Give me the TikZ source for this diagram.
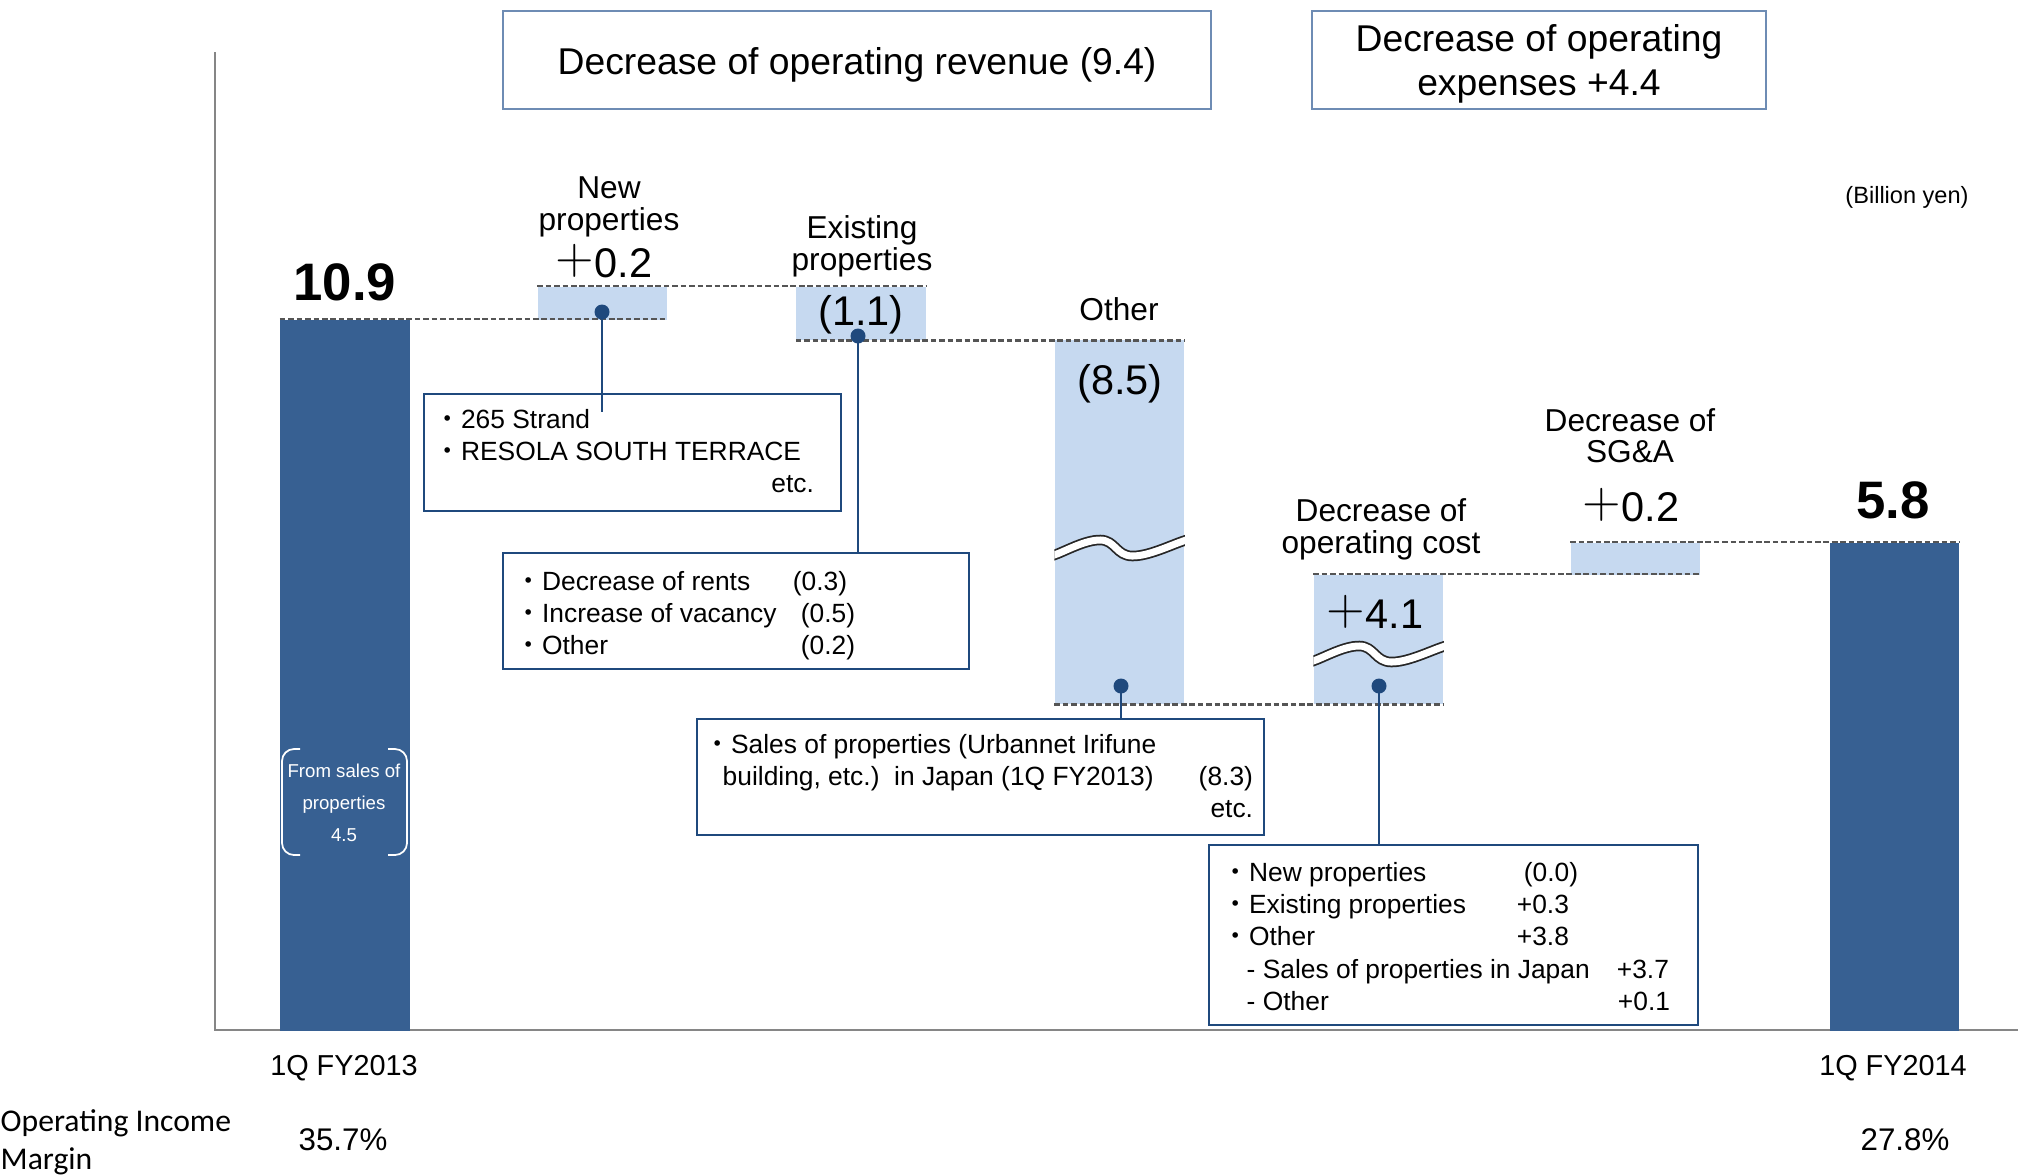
\documentclass[tikz,border=0pt]{standalone}
\usepackage{fontspec}
\setmainfont{Liberation Sans}
\newfontfamily\jpfont{Noto Sans CJK JP}
\newfontfamily\calfont{Carlito}
\usepackage{tikz}
\usetikzlibrary{positioning,calc}
\definecolor{darkbar}{RGB}{55,96,146}
\definecolor{lightbar}{RGB}{198,217,240}
\definecolor{navy}{RGB}{31,73,125}
\definecolor{framegray}{RGB}{110,140,180}
\definecolor{dashgray}{RGB}{85,85,85}
\definecolor{axisgray}{RGB}{134,134,134}

\newcommand{\jdot}{{\jpfont ・}}
\newcommand{\plusw}{\raisebox{1.1pt}{\fontsize{14}{14}\selectfont$+$}}
\newcommand{\fs}[2]{\fontsize{#1}{#2}\selectfont}
\newcommand{\stack}[1]{\begin{tabular}[t]{@{}c@{}}#1\end{tabular}}
\newcommand{\lowered}[1]{\raisebox{-0.05cm}[\height][\depth]{#1}}
\newcommand{\gapwave}[2]{%
  \begin{scope}
    \clip (#1.north west) rectangle (#1.south east);
    \foreach \wcol/\wwd in {black!85/3pt, white/2pt}
      \draw[\wcol, line width=\wwd, shift={(#1.west |- 0,#2)}]
        plot[smooth, tension=0.7] coordinates {(-12,5) (0,0) (46,-15) (78,1) (129,-14) (142,-20)};
  \end{scope}}

\tikzset{
  bar/.style={rectangle, inner sep=0pt, minimum width=1.29cm, anchor=north},
  guideline/.style={dashgray, line width=0.7pt, dash pattern=on 1.6pt off 0.8pt},
  axisline/.style={axisgray, line width=0.7pt},
  infobox/.style={draw=navy, line width=0.6pt, fill=white, inner sep=0pt, anchor=north west},
  titlebox/.style={draw=framegray, line width=0.5pt, inner sep=0pt, anchor=north west, font=\fs{10.6}{12.5}},
  leader/.style={navy, line width=0.6pt},
  leaddot/.style={circle, fill=navy, inner sep=0pt, minimum size=0.15cm},
  boxtext/.style={anchor=base west, inner sep=0pt, font=\fs{7.5}{9.2}},
  lbl/.style={anchor=base, inner sep=0pt, font=\fs{9}{8.9}},
  val/.style={anchor=base, inner sep=0pt, font=\fs{11.8}{12}},
  total/.style={anchor=base, inner sep=0pt, font=\bfseries\fs{15}{15}},
  yearlbl/.style={anchor=base, inner sep=0pt, font=\fs{8.2}{9}},
  marginval/.style={anchor=base, inner sep=0pt, font=\fs{8.9}{9}},
  bracket/.style={white, line width=0.5pt, rounded corners=0.12cm}
}

\begin{document}
\begin{tikzpicture}[x=0.01cm, y=-0.01cm]
  \useasboundingbox (0,0) rectangle (2018,1175);

  % headline boxes
  \node[titlebox, minimum width=7.08cm, minimum height=0.98cm] (revtitle) at (502,10) {\lowered{Decrease of operating revenue (9.4)}};
  \node[titlebox, minimum width=4.54cm, minimum height=0.98cm] (exptitle) at (1311,10) {\lowered{\stack{Decrease of operating\\expenses +4.4}}};
  \node[anchor=base, inner sep=0pt, font=\fs{6.7}{8}] (unit) at (1907,203) {(Billion yen)};

  % axes
  \draw[axisline] (215,52) -- (215,1030) -- (2018,1030);

  % waterfall bars
  \node[bar, fill=darkbar, minimum height=7.11cm] (fy13) at (345,319) {};
  \node[bar, fill=lightbar, minimum height=0.33cm] (newp) at (602.5,286) {};
  \node[bar, fill=lightbar, minimum height=0.53cm] (exist) at (861,286) {};
  \node[bar, fill=lightbar, minimum height=3.64cm] (other) at (1119.5,339) {};
  \node[bar, fill=lightbar, minimum height=1.29cm] (opcost) at (1378.5,574) {};
  \node[bar, fill=lightbar, minimum height=0.32cm] (sga) at (1635.5,542) {};
  \node[bar, fill=darkbar, minimum height=4.88cm] (fy14) at (1894.5,542) {};

  \draw[guideline] (fy13.north west) -- (fy13.north west -| newp.east);
  \draw[guideline] (newp.north west) -- (newp.north west -| exist.east);
  \draw[guideline] (exist.south west) -- (exist.south west -| other.east);
  \draw[guideline] (other.south west) -- (other.south west -| opcost.east);
  \draw[guideline] (opcost.north west) -- (opcost.north west -| sga.east);
  \draw[guideline] (sga.north west) -- (sga.north west -| fy14.east);

  \gapwave{other}{555}
  \gapwave{opcost}{661}

  % bar labels
  \node[total] (v13) at (345,300) {10.9};
  \node[lbl] (newlbl) at (609,198) {\stack{New\\properties}};
  \node[val] (newval) at (604,277) {\plusw0.2};
  \node[lbl] (exlbl) at (862,238) {\stack{Existing\\properties}};
  \node[val] (exval) at (861,325) {(1.1)};
  \node[lbl] (othlbl) at (1119,320) {Other};
  \node[val] (othval) at (1120,394) {(8.5)};
  \node[lbl] (oclbl) at (1381,521) {\stack{Decrease of\\operating cost}};
  \node[val] (ocval) at (1375,628) {\plusw4.1};
  \node[lbl] (sglbl) at (1630,431) {\stack{Decrease of\\SG\&A}};
  \node[val] (sgval) at (1631,521) {\plusw0.2};
  \node[total] (v14) at (1893,518) {5.8};

  \node[anchor=base, inner sep=0pt, text=white, font=\fs{5.3}{9.1}] (fromsales) at (344,777) {\stack{From sales of\\properties\\4.5}};
  \draw[bracket] (300,749) -- (282,749) -- (282,855) -- (300,855);
  \draw[bracket] (388,749) -- (407,749) -- (407,855) -- (388,855);

  % detail boxes
  \node[infobox, minimum width=4.17cm, minimum height=1.17cm] (newbox) at (423,393) {};
  \node[infobox, minimum width=4.66cm, minimum height=1.16cm] (exbox) at (502,552) {};
  \node[infobox, minimum width=5.67cm, minimum height=1.16cm] (salebox) at (696,718) {};
  \node[infobox, minimum width=4.89cm, minimum height=1.80cm] (costbox) at (1208,844) {};

  \node[boxtext] (newtxt) at (434,428) {\begin{tabular}[t]{@{}p{3.79cm}@{}}
    \jdot 265 Strand\\
    \jdot RESOLA SOUTH TERRACE\\
    \hfill etc.\end{tabular}};
  \node[boxtext] (extxt) at (515,590) {\begin{tabular}[t]{@{}l@{}}
    \makebox[2.77cm][l]{\jdot Decrease of rents}(0.3)\\
    \makebox[2.85cm][l]{\jdot Increase of vacancy}(0.5)\\
    \makebox[2.85cm][l]{\jdot Other}(0.2)\end{tabular}};
  \node[boxtext] (saletxt) at (704,753) {\begin{tabular}[t]{@{}p{5.48cm}@{}}
    \jdot Sales of properties (Urbannet Irifune\\
    \hspace*{0.18cm}building, etc.)~~in Japan (1Q FY2013)\hfill(8.3)\\
    \hfill etc.\end{tabular}};
  \node[boxtext] (costtxt) at (1222,881) {\begin{tabular}[t]{@{}l@{}}
    \makebox[3.01cm][l]{\jdot New properties}(0.0)\\
    \makebox[2.94cm][l]{\jdot Existing properties}+0.3\\
    \makebox[2.94cm][l]{\jdot Other}+3.8\\
    \makebox[3.94cm][l]{\hspace*{0.24cm}- Sales of properties in Japan}+3.7\\
    \makebox[3.95cm][l]{\hspace*{0.24cm}- Other}+0.1\end{tabular}};

  % leader lines
  \node[leaddot] (d1) at (602,312) {};
  \node[leaddot] (d2) at (858,336) {};
  \node[leaddot] (d3) at (1121,686) {};
  \node[leaddot] (d4) at (1379,686) {};
  \coordinate (newend) at (602,412);
  \draw[leader] (d1.center) -- (newend);
  \draw[leader] (d2.center) -- (d2.center |- exbox.north);
  \draw[leader] (d3.center) -- (d3.center |- salebox.north);
  \draw[leader] (d4.center) -- (d4.center |- costbox.north);

  % periods and margins
  \node[yearlbl] (p13) at (344,1075) {1Q FY2013};
  \node[yearlbl] (p14) at (1893,1075) {1Q FY2014};
  \node[anchor=base west, inner sep=0pt, font=\calfont\fs{9}{11}] (oimlbl) at (0,1131) {\begin{tabular}[t]{@{}l@{}}Operating Income\\Margin\end{tabular}};
  \node[marginval] (m13) at (343,1150) {35.7\%};
  \node[marginval] (m14) at (1905,1150) {27.8\%};
\end{tikzpicture}
\end{document}
